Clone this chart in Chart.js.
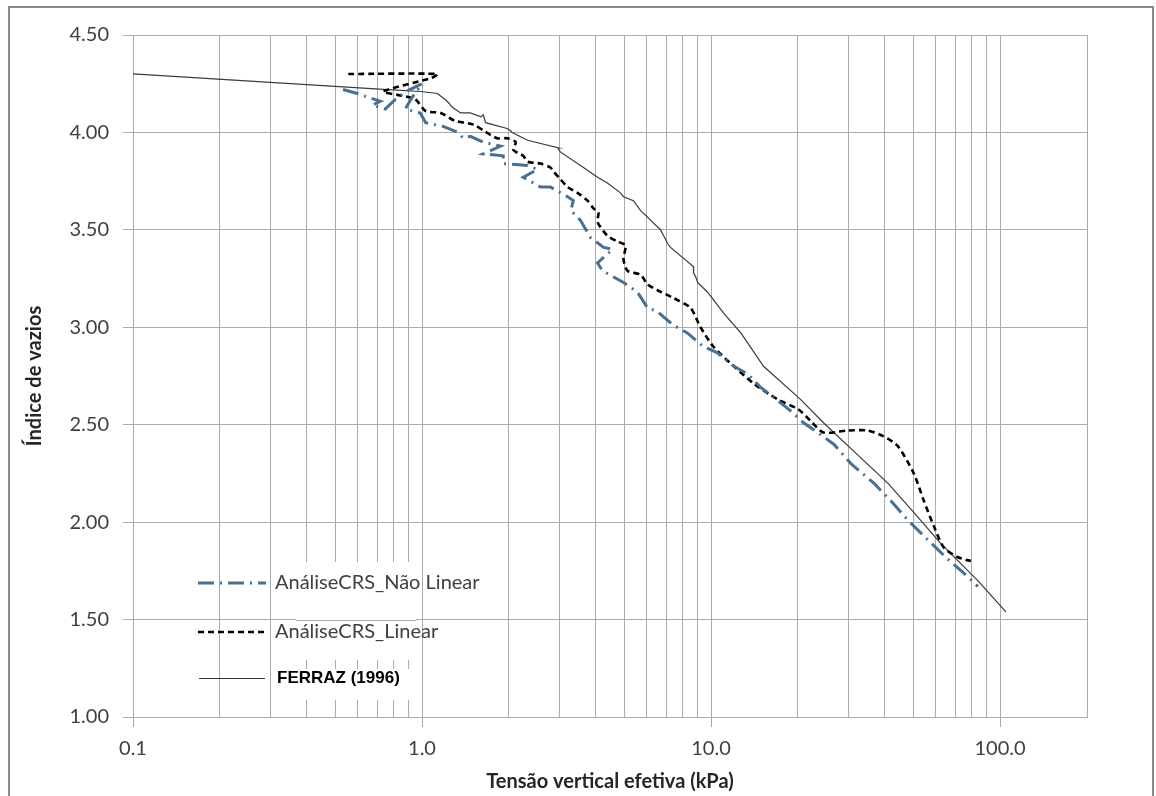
<!DOCTYPE html>
<html>
<head>
<meta charset="utf-8">
<script src="https://cdn.jsdelivr.net/npm/chart.js@4"></script>
<style>
  body { margin: 0; background: #fff; overflow: hidden; }
  .wrap { position: relative; width: 1156px; height: 796px; overflow: hidden; }
  canvas { display: block; }
  .frame {
    position: absolute; left: 8px; top: 6px; width: 1142px; height: 900px;
    border: 2px solid #8a8a8a; pointer-events: none;
  }
</style>
</head>
<body>
<div class="wrap">
<canvas id="chart" width="1156" height="796"></canvas>
<div class="frame"></div>
</div>
<script>
// valores (tensão em kPa, índice de vazios)
const ferrazX = [0.1, 0.76, 0.99, 1.13, 1.2, 1.24, 1.27, 1.36, 1.47, 1.6, 1.63, 1.66, 1.97, 2.02, 2.05, 2.32, 2.97, 2.95, 3.01, 3.62, 4.05, 4.38, 4.86, 4.98, 5.39, 5.70, 6.69, 7.08, 7.24, 8.71, 8.7, 8.85, 8.99, 9.73, 11.1, 12.7, 15.2, 20.4, 24.5, 33.0, 40.9, 50.3, 62.4, 83.8, 104.8];
const ferrazY = [4.30, 4.22, 4.21, 4.20, 4.17, 4.15, 4.13, 4.10, 4.10, 4.08, 4.09, 4.05, 4.02, 4.01, 4.00, 3.96, 3.92, 3.92, 3.90, 3.82, 3.77, 3.74, 3.69, 3.67, 3.65, 3.60, 3.50, 3.43, 3.41, 3.31, 3.28, 3.26, 3.23, 3.18, 3.07, 2.97, 2.80, 2.63, 2.51, 2.33, 2.20, 2.05, 1.89, 1.70, 1.54];

const linearX = [0.556, 1.13, 1.08, 0.735, 0.841, 0.948, 1.03, 1.16, 1.30, 1.51, 1.63, 1.82, 1.97, 2.11, 2.07, 2.24, 2.32, 2.57, 2.78, 2.85, 3.01, 3.19, 3.45, 3.74, 3.92, 4.08, 4.05, 4.38, 4.75, 5.06, 4.98, 5.14, 5.70, 6.03, 6.53, 7.42, 8.49, 9.20, 10.2, 12.0, 14.1, 17.0, 20.0, 22.1, 24.5, 29.7, 34.9, 39.6, 44.3, 50.3, 54.5, 59.0, 63.9, 71.5, 79.3];
const linearY = [4.30, 4.30, 4.28, 4.21, 4.19, 4.17, 4.11, 4.10, 4.06, 4.04, 4.01, 3.97, 3.97, 3.95, 3.91, 3.88, 3.85, 3.84, 3.82, 3.80, 3.76, 3.72, 3.69, 3.65, 3.61, 3.59, 3.54, 3.47, 3.44, 3.42, 3.35, 3.29, 3.27, 3.22, 3.19, 3.15, 3.10, 3.00, 2.90, 2.80, 2.71, 2.63, 2.58, 2.52, 2.46, 2.47, 2.47, 2.44, 2.39, 2.25, 2.11, 1.98, 1.87, 1.82, 1.80];

const naoLinearX = [0.533, 0.597, 0.652, 0.717, 0.673, 0.746, 0.809, 0.880, 1.00, 0.925, 0.875, 0.986, 1.03, 1.19, 1.33, 1.39, 1.47, 1.63, 1.87, 1.63, 1.91, 1.91, 2.32, 2.51, 2.24, 2.57, 2.78, 3.19, 3.34, 3.27, 3.53, 3.83, 4.25, 4.56, 4.05, 4.21, 4.98, 5.57, 6.03, 6.53, 7.42, 8.30, 9.42, 10.5, 12.0, 13.4, 14.9, 16.5, 18.9, 20.9, 23.4, 26.6, 30.5, 36.6, 41.9, 48.0, 56.2, 66.0, 77.4, 83.8];
const naoLinearY = [4.22, 4.20, 4.18, 4.16, 4.14, 4.12, 4.17, 4.21, 4.25, 4.18, 4.12, 4.10, 4.05, 4.03, 4.00, 3.97, 3.98, 3.95, 3.93, 3.89, 3.88, 3.84, 3.83, 3.81, 3.77, 3.72, 3.72, 3.67, 3.65, 3.60, 3.55, 3.46, 3.41, 3.40, 3.33, 3.29, 3.23, 3.18, 3.10, 3.08, 3.01, 2.97, 2.90, 2.87, 2.80, 2.76, 2.69, 2.64, 2.57, 2.51, 2.46, 2.40, 2.30, 2.20, 2.11, 2.01, 1.91, 1.81, 1.72, 1.67];

const seriesNames = ['AnáliseCRS_Não Linear', 'AnáliseCRS_Linear', 'FERRAZ (1996)'];
const xTickLabels = [0.1, 1, 10, 100];
const xMin = 0.1, xMax = 200;
const yMin = 1.0, yMax = 4.5, yStep = 0.5;

// linhas de grade em escala log: 1..9 de cada década, até o máximo do eixo
const xGridValues = [];
[0.1, 1, 10, 100].forEach(d => {
    for (let m = 1; m <= 9; m++) {
        const v = Number((d * m).toPrecision(6));
        if (v <= xMax) xGridValues.push(v);
    }
});

function zip(xs, ys) {
    return xs.map((x, i) => ({ x: x, y: ys[i] }));
}

const gridColor = '#ababab';
const textColor = '#404040';
const blue = '#4a6f8f';

// legenda desenhada dentro da área do gráfico, como no original
const insideLegend = {
    id: 'insideLegend',
    beforeDatasetsDraw(chart) {
        const c = chart.ctx;
        const ys = chart.scales.y;
        c.save();
        c.fillStyle = '#ffffff';
        c.fillRect(296, 562, 120, 98);
        c.fillRect(296, 669, 120, 31);
        // linha de 1.50 passa por cima do fundo branco
        const y15 = Math.round(ys.getPixelForValue(1.5)) + 0.5;
        c.strokeStyle = gridColor;
        c.lineWidth = 1;
        c.beginPath();
        c.moveTo(296, y15);
        c.lineTo(416, y15);
        c.stroke();

        const rows = [583, 632, 678];
        // amostras das linhas
        c.strokeStyle = blue;
        c.lineWidth = 3;
        c.setLineDash([16, 6, 2, 6]);
        c.beginPath(); c.moveTo(198, rows[0]); c.lineTo(266, rows[0]); c.stroke();
        c.strokeStyle = '#000';
        c.lineWidth = 2.5;
        c.setLineDash([6, 4]);
        c.beginPath(); c.moveTo(198, rows[1]); c.lineTo(266, rows[1]); c.stroke();
        c.setLineDash([]);
        c.lineWidth = 1;
        c.strokeStyle = '#333';
        c.beginPath(); c.moveTo(199, rows[2] + 0.5); c.lineTo(265, rows[2] + 0.5); c.stroke();

        c.textBaseline = 'middle';
        c.textAlign = 'left';
        c.fillStyle = textColor;
        c.font = '20px Lato';
        c.fillText(seriesNames[0], 275, rows[0]);
        c.fillText(seriesNames[1], 275, rows[1]);
        c.fillStyle = '#000';
        c.font = 'bold 17px "Liberation Sans"';
        c.fillText(seriesNames[2], 277, rows[2]);
        c.restore();
    }
};

const ctx = document.getElementById('chart').getContext('2d');

new Chart(ctx, {
    type: 'scatter',
    data: {
        datasets: [
            {
                label: seriesNames[0],
                data: zip(naoLinearX, naoLinearY),
                showLine: true,
                borderColor: blue,
                borderWidth: 3,
                borderDash: [16, 6, 2, 6],
                pointRadius: 0,
                tension: 0
            },
            {
                label: seriesNames[1],
                data: zip(linearX, linearY),
                showLine: true,
                borderColor: '#000000',
                borderWidth: 2.6,
                borderDash: [6, 4],
                pointRadius: 0,
                tension: 0.25
            },
            {
                label: seriesNames[2],
                data: zip(ferrazX, ferrazY),
                showLine: true,
                borderColor: '#3a3a3a',
                borderWidth: 1.2,
                pointRadius: 0,
                tension: 0
            }
        ]
    },
    options: {
        responsive: false,
        animation: false,
        layout: {
            padding: { left: 20, top: 35, right: 69, bottom: 0 }
        },
        plugins: {
            legend: { display: false },
            tooltip: { enabled: false }
        },
        scales: {
            x: {
                type: 'logarithmic',
                min: xMin,
                max: xMax,
                afterBuildTicks: function(scale) {
                    scale.ticks = xGridValues.map(v => ({ value: v, major: xTickLabels.includes(v) }));
                },
                afterFit: function(scale) {
                    scale.height = 79;
                },
                grid: {
                    color: gridColor,
                    lineWidth: 1,
                    tickLength: 10,
                    tickColor: function(context) {
                        return context.tick && xTickLabels.includes(context.tick.value) ? gridColor : 'rgba(0,0,0,0)';
                    }
                },
                border: { color: gridColor },
                ticks: {
                    autoSkip: false,
                    maxRotation: 0,
                    padding: 10,
                    color: textColor,
                    font: { family: 'Lato', size: 20 },
                    callback: function(value) {
                        return xTickLabels.includes(value) ? value.toFixed(1) : '';
                    }
                },
                title: {
                    display: true,
                    text: 'Tensão vertical efetiva (kPa)',
                    color: '#262626',
                    font: { family: 'Lato', size: 20, weight: 'bold' },
                    padding: { top: 0, bottom: 2 }
                }
            },
            y: {
                min: yMin,
                max: yMax,
                afterFit: function(scale) {
                    scale.width = 113;
                },
                grid: {
                    color: gridColor,
                    lineWidth: 1,
                    tickLength: 10
                },
                border: { color: gridColor },
                ticks: {
                    stepSize: yStep,
                    padding: 14,
                    color: textColor,
                    font: { family: 'Lato', size: 20 },
                    callback: function(value) {
                        return value.toFixed(2);
                    }
                },
                title: {
                    display: true,
                    text: 'Índice de vazios',
                    color: '#262626',
                    font: { family: 'Lato', size: 20, weight: 'bold' },
                    padding: { top: 3, bottom: 3 }
                }
            }
        }
    },
    plugins: [insideLegend]
});
</script>
</body>
</html>
